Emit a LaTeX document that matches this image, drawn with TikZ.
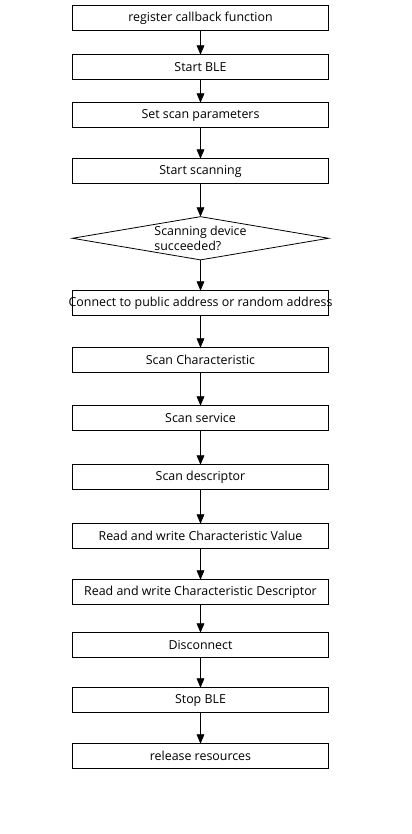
\documentclass[tikz,border=0pt]{standalone}
\usepackage{fontspec}
\setmainfont{Open Sans}
\usetikzlibrary{matrix, arrows, shapes.geometric}

\tikzset{
  stepbox/.style = {draw, rectangle, line width=0.6pt, minimum width=192pt, minimum height=18.9pt, inner sep=0pt, outer sep=0pt, font=\fontsize{9.3}{11}\selectfont},
  decision/.style = {draw, diamond, line width=0.6pt, shape aspect=6, minimum width=192pt, minimum height=32.4pt, inner sep=0pt, outer sep=0pt, align=left, font=\fontsize{9.3}{11}\selectfont},
  flow/.style = {->, >=triangle 45, line width=0.6pt}
}

\begin{document}
\begin{tikzpicture}[x=0.75pt, y=-0.75pt]
\useasboundingbox (0,0) rectangle (411,834);
\matrix (m) [matrix of nodes, inner sep=0pt, row sep = 22.5pt, anchor=north] at (200.5,5) {
\node[stepbox](reg){register callback function}; \\[-5.25pt]
\node[stepbox](ble){Start BLE}; \\[-6pt]
\node[stepbox](par){Set scan parameters}; \\
\node[stepbox](scan){Start scanning}; \\[1.5pt]
\node[decision](ok){Scanning device\\succeeded?}; \\
\node[stepbox](conn){\makebox[180pt][c]{Connect to public address or random address}}; \\[0.75pt]
\node[stepbox](chr){Scan Characteristic}; \\[1.5pt]
\node[stepbox](srv){Scan service}; \\[2.25pt]
\node[stepbox](dsc){Scan descriptor}; \\[2.25pt]
\node[stepbox](rwv){Read and write Characteristic Value}; \\
\node[stepbox](rwd){Read and write Characteristic Descriptor}; \\[-2.25pt]
\node[stepbox](dis){Disconnect}; \\[-0.75pt]
\node[stepbox](stop){Stop BLE}; \\
\node[stepbox](rel){release resources}; \\
};
\draw[flow] (reg) -- (ble);
\draw[flow] (ble) -- (par);
\draw[flow] (par) -- (scan);
\draw[flow] (scan) -- (ok);
\draw[flow] (ok) -- (conn);
\draw[flow] (conn) -- (chr);
\draw[flow] (chr) -- (srv);
\draw[flow] (srv) -- (dsc);
\draw[flow] (dsc) -- (rwv);
\draw[flow] (rwv) -- (rwd);
\draw[flow] (rwd) -- (dis);
\draw[flow] (dis) -- (stop);
\draw[flow] (stop) -- (rel);
\end{tikzpicture}
\end{document}
